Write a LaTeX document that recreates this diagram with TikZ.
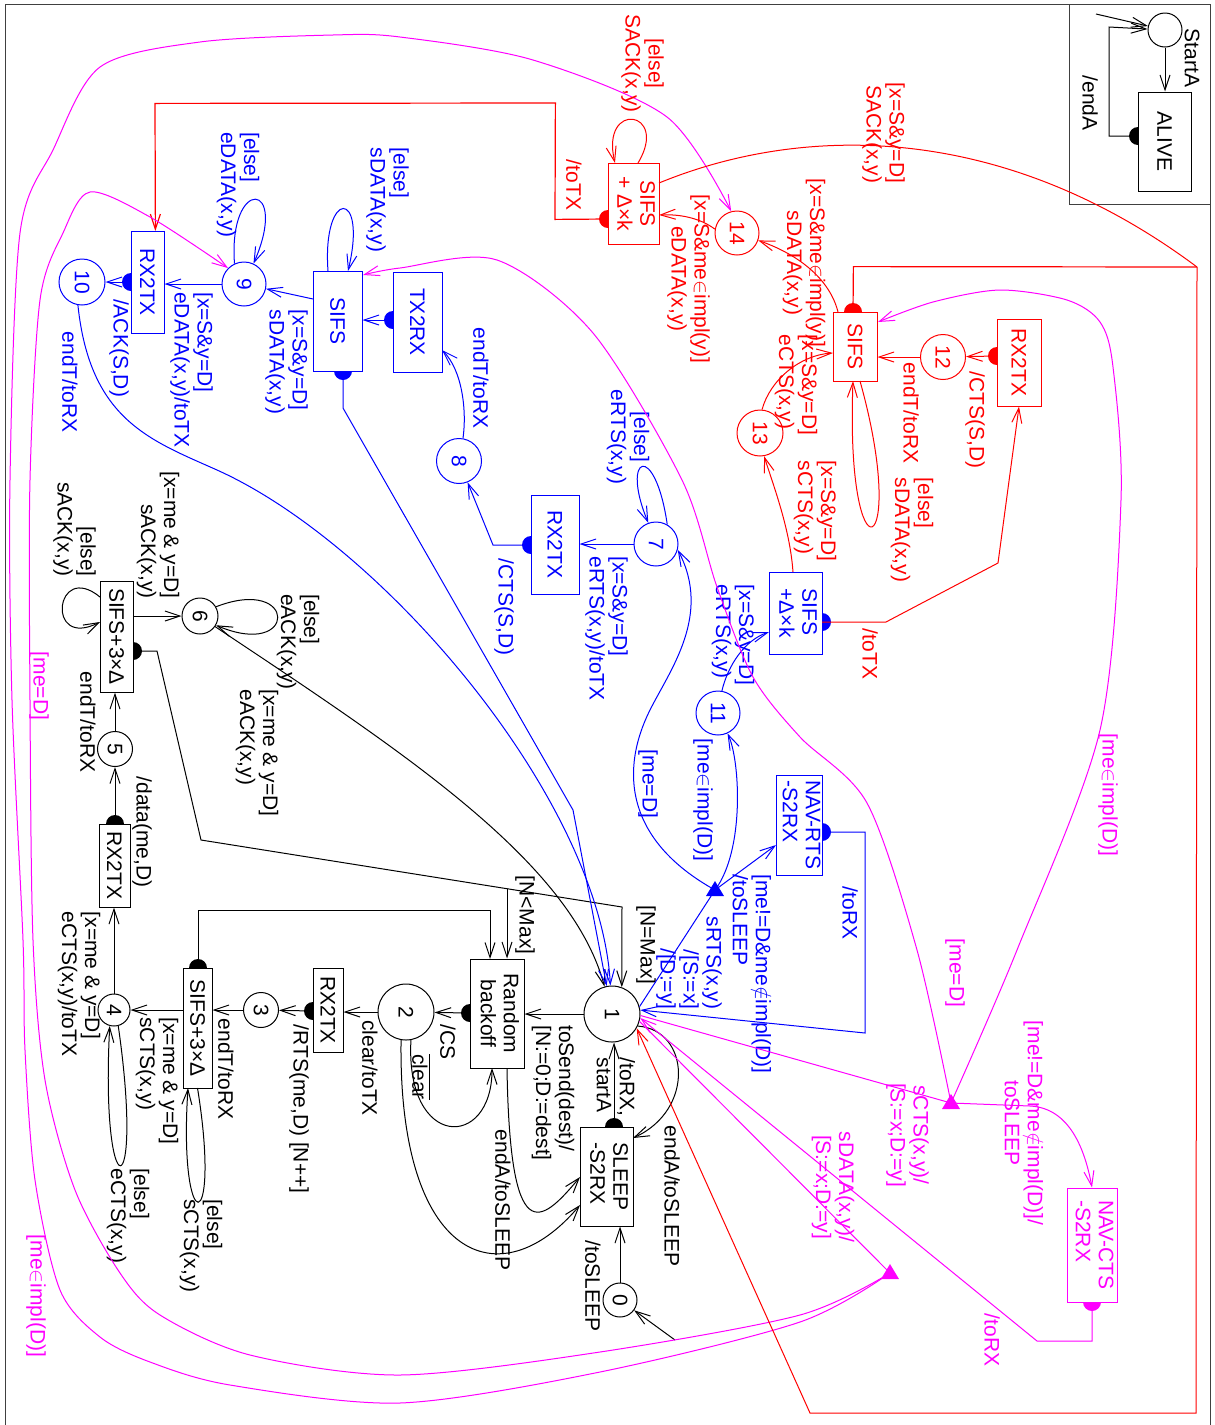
\documentclass[tikz,border=0pt]{standalone}
\usepackage{fontspec}
\setmainfont{Liberation Sans}
\usepackage{graphicx}
\usetikzlibrary{arrows.meta,calc}
\definecolor{mg}{RGB}{255,0,255}
\definecolor{bl}{RGB}{0,0,255}
\definecolor{rd}{RGB}{255,0,0}
\newcommand{\rt}[1]{\rotatebox{-90}{#1}}
\newcommand{\rtl}[1]{\rotatebox{-90}{\begin{tabular}{@{}l@{}}#1\end{tabular}}}
\newcommand{\rtc}[1]{\rotatebox{-90}{\begin{tabular}{@{}c@{}}#1\end{tabular}}}
\begin{document}
\begin{tikzpicture}[x=1pt,y=-1pt,line width=1pt,
  every node/.style={font=\fontsize{21}{23}\selectfont},
  >={Straight Barb[length=15pt,width=10pt]},
  box/.style={draw, fill=white, inner sep=0},
  bbox/.style={box, draw=bl, text=bl},
  rbox/.style={box, draw=rd, text=rd},
  mbox/.style={box, draw=mg, text=mg},
  st/.style={draw, fill=white, circle, inner sep=0},
  bst/.style={st, draw=bl, text=bl},
  rst/.style={st, draw=rd, text=rd},
  rline/.style={draw=rd, line width=1.2pt},
  lbl/.style={rotate=-90, inner sep=0, align=left}]
\useasboundingbox (0,0) rectangle (1215,1425);

% ---------- coordinates ----------
\coordinate (i1) at (1096,14);
\coordinate (i0) at (675,1340);
\coordinate (dALIVE) at (1138,136);
\coordinate (dSLEEP) at (614,1127);
\coordinate (dRB) at (470,1013);
\coordinate (dRXa) at (313,1011);
\coordinate (dS3a) at (198,968);
\coordinate (dRXb) at (115,824);
\coordinate (dS3b) at (133,651);
\coordinate (dRXc) at (531,545);
\coordinate (dTX) at (393,320);
\coordinate (dSIFSb) at (343,371);
\coordinate (dRXd) at (131,282);
\coordinate (dNAVR) at (822,832);
\coordinate (dSKb) at (822,622);
\coordinate (dSIFSr) at (853,312);
\coordinate (dRXr) at (997,356);
\coordinate (dSKr) at (608,219);
\coordinate (dNAVC) at (1092,1302);
\coordinate (j1) at (507,888.7);
\coordinate (T1) at (715,890);
\coordinate (TA) at (951,1103);
\coordinate (TB) at (890,1273);
\coordinate (cR) at (1197,267);
\coordinate (k1) at (555,219.4);
\coordinate (k2) at (555.4,103);
\coordinate (k3) at (155,103.4);
\coordinate (k4) at (155.4,231);
\coordinate (k5) at (853.4,266.6);

% red timeout connectors drawn first
\path[rline, ->] (dSKr) -- (k1) -- (k2) -- (k3) -- (k4);
\path[rline] (dSIFSr) -- (k5) -- (cR);

% frame
\draw[black!75] (5,1425) -- (5,4) -- (1210,4) -- (1210,1425);
\draw[black!75] (1069,4) -- (1069,204) -- (1210,204);

% half-disc markers (the white boxes cover the inner half)
\foreach \p in {dALIVE,dSLEEP,dRB,dRXa,dS3a,dRXb,dS3b} \fill (\p) circle (9pt);
\foreach \p in {dRXc,dTX,dSIFSb,dRXd,dNAVR,dSKb} \fill[bl] (\p) circle (9pt);
\foreach \p in {dSIFSr,dRXr,dSKr} \fill[rd] (\p) circle (9pt);
\fill[mg] (dNAVC) circle (9pt);

% ---------- boxes ----------
\node[box, minimum width=53pt, minimum height=99pt] (ALIVE) at (1164.5,141.5) {\rt{ALIVE}};
\node[box, minimum width=53pt, minimum height=99pt] (SLEEP) at (606.5,1176.5) {\rtl{SLEEP\\-S2RX}};
\node[box, minimum width=54pt, minimum height=109pt] (RB) at (497,1013.5) {\rtc{Random\\backoff}};
\node[box, minimum width=30pt, minimum height=84pt] (RXa) at (328,1010) {\rt{RX2TX}};
\node[box, minimum width=29pt, minimum height=120pt] (S3a) at (197.5,1028) {\rt{SIFS+3×Δ}};
\node[box, minimum width=31pt, minimum height=83pt] (RXb) at (114.5,865.5) {\rt{RX2TX}};
\node[box, minimum width=33pt, minimum height=111pt] (S3b) at (116.5,636.5) {\rt{SIFS+3×Δ}};
\node[bbox, minimum width=48pt, minimum height=99pt] (RXc) at (555,544.5) {\rt{RX2TX}};
\node[bbox, minimum width=49pt, minimum height=100pt] (TX) at (417.5,322) {\rt{TX2RX}};
\node[bbox, minimum width=49pt, minimum height=100pt] (SIFSb) at (337.5,321) {\rt{SIFS}};
\node[bbox, minimum width=33pt, minimum height=102pt] (RXd) at (147.5,282) {\rt{RX2TX}};
\node[bbox, minimum width=46pt, minimum height=100pt] (NAVR) at (799,825) {\rtl{NAV-RTS\\-S2RX}};
\node[bbox, minimum width=53pt, minimum height=82pt] (SKb) at (795.5,613) {\rtl{SIFS\\+Δ×k}};
\node[rbox, minimum width=44pt, minimum height=69pt] (SIFSr) at (855,346.5) {\rt{SIFS}};
\node[rbox, minimum width=44pt, minimum height=87pt] (RXr) at (1019,362.5) {\rt{RX2TX}};
\node[rbox, minimum width=51pt, minimum height=81pt] (SKr) at (633.5,203.5) {\rtc{SIFS\\+ Δ×k}};
\node[mbox, minimum width=50pt, minimum height=114pt] (NAVC) at (1092,1245) {\rtl{NAV-CTS\\-S2RX}};

% ---------- states ----------
\node[st, minimum size=34pt] (start) at (1165,30) {};
\node[st, minimum size=34pt] (n0) at (620,1300) {\rt{0}};
\node[st, minimum size=56pt] (n1) at (612,1014) {\rt{1}};
\node[st, minimum size=56pt] (n2) at (406,1012) {\rt{2}};
\node[st, minimum size=35pt] (n3) at (261,1010) {\rt{3}};
\node[st, minimum size=32pt] (n4) at (114,1010) {\rt{4}};
\node[st, minimum size=35pt] (n5) at (115,749) {\rt{5}};
\node[st, minimum size=36pt] (n6) at (200,616) {\rt{6}};
\node[bst, minimum size=44pt] (n7) at (656,544) {\rt{7}};
\node[bst, minimum size=45pt] (n8) at (459,461) {\rt{8}};
\node[bst, minimum size=44pt] (n9) at (244,284) {\rt{9}};
\node[bst, minimum size=46pt] (n10) at (82,282) {\rt{10}};
\node[bst, minimum size=44pt] (n11) at (718,713) {\rt{11}};
\node[rst, minimum size=45pt] (n12) at (943,357) {\rt{12}};
\node[rst, minimum size=46pt] (n13) at (760,433) {\rt{13}};
\node[rst, minimum size=44pt] (n14) at (737,233) {\rt{14}};

% ---------- inset ----------
\draw[->] (i1) -- (start);
\draw[->] (start) -- (start |- ALIVE.north);
\draw[->] (dALIVE) -- (1109,136) -- (1109,27) -- (start);
\node[lbl] (lStart) at (1192,58) {StartA};
\node[lbl] (lEndA) at (1090,103) {/endA};

% ---------- black ----------
\draw[->] (i0) -- (n0);
\draw[->] (n0) -- (n0 |- SLEEP.south);
\node[lbl] (l0) at (593,1286) {/toSLEEP};
\draw[->] (dSLEEP) -- (dSLEEP |- n1.south);
\node[lbl] (l1) at (616,1087) {/toRX,\\startA};
\draw[->] (n1.-25) .. controls (690,1030) and (695,1110) .. (633,1138);
\node[lbl] (l2) at (672,1196) {endA/toSLEEP};
\draw[->] (n1) -- (n1 -| RB.east);
\node[lbl] (l3) at (553,1093) {toSend(dest)/\\{}[N:=0;D:=dest]};
\draw[->] (dRB) -- (n2);
\node[lbl] (l4) at (448,1042) {/CS};
\draw[->] (n2.-80) .. controls (405,1150) and (492,1150) .. (492,1068);
\node[lbl] (l5) at (421,1077) {$\overline{\mbox{clear}}$};
\draw[->] (n2.-100) .. controls (398,1260) and (500,1300) .. (580,1205);
\draw[->] ($(RB.south)+(10,0)$) .. controls (510,1250) and (540,1225) .. (580,1177);
\node[lbl] (l6) at (503,1200) {endA/toSLEEP};
\draw[->] (n2) -- (n2 -| RXa.east);
\node[lbl] (l7) at (370,1068) {clear/toTX};
\draw[->] (dRXa) -- (n3);
\node[lbl] (l8) at (299,1109) {/RTS(me,D) [N++]};
\draw[->] (n3) -- (n3 -| S3a.east);
\node[lbl] (l9) at (226,1069) {endT/toRX};
\draw[->] (197.5,1088) .. controls (222,1240) and (178,1240) .. (188,1088);
\node[lbl] (l10) at (201,1246) {[else]\\sCTS(x,y)};
\draw[->] (S3a.west |- n4) -- (n4);
\node[lbl] (l11) at (157,1081) {[x=me \& y=D]\\sCTS(x,y)};
\draw[->] (n4.-75) .. controls (145,1212) and (100,1212) .. (n4.-105);
\node[lbl] (l12) at (128,1216) {[else]\\eCTS(x,y)};
\draw[->] (n4) -- (n4 |- RXb.south);
\node[lbl] (l13) at (79,984) {[x=me \& y=D]\\eCTS(x,y)/toTX};
\draw[->] (dRXb) -- (n5);
\node[lbl] (l14) at (142,832) {/data(me,D)};
\draw[->] (n5) -- (n5 |- S3b.south);
\node[lbl] (l15) at (88,722) {endT/toRX};
\draw[->] (100,597) .. controls (55,560) and (45,650) .. (100,622);
\node[lbl, align=right] (l16) at (74.5,529.5) {[else]\\sACK(x,y)};
\draw[->] (S3b.east |- n6) -- (n6);
\node[lbl, align=right] (l17) at (158,535) {[x=me \& y=D]\\sACK(x,y)};
\draw[->] (n6.30) .. controls (298,575) and (298,660) .. (n6.-30);
\node[lbl] (l18) at (298,642) {[else]\\eACK(x,y)};
\draw[->] (n6.-35) .. controls (400,750) and (570,860) .. (n1);
\node[lbl] (l19) at (257,753) {[x=me \& y=D]\\eACK(x,y)};
\draw (dS3b) -- (157,651) -- (201,840) -- (j1);
\draw[->] (j1) -- (622,907) -- (n1.70);
\draw[->] (j1) -- (j1 |- RB.north);
\node[lbl] (l20) at (525,915) {[N<Max]};
\node[lbl] (l21) at (646,945) {[N=Max]};
\draw[->] (dS3a) -- (198,910) -- (490,910) -- (490,959);

% ---------- blue ----------
\draw[bl] (n1.15) -- (T1);
\fill[bl] ($(T1)+(0,-9)$) -- ($(T1)+(-9,6)$) -- ($(T1)+(9,6)$) -- cycle;
\node[lbl, bl, align=right] (b1) at (689,963) {sRTS(x,y)\\/[S:=x]\\/[D:=y]};
\draw[->, bl] (T1) .. controls (745,850) and (740,760) .. (n11);
\node[lbl, bl] (b2) at (703,800) {[me$\in$impl(D)]};
\draw[->, bl] (T1) .. controls (625,840) and (620,770) .. (650,710) .. controls (670,670) and (712,615) .. (n7.-15);
\node[lbl, bl] (b3) at (648,784) {[me=D]};
\draw[->, bl] (T1) -- (776,845);
\node[lbl, bl] (b4) at (752,974) {[me!=D\&me$\notin$impl(D)]\\/toSLEEP};
\draw[->, bl] (dNAVR) -- (865,832) -- (865,1033) -- (n1.8);
\node[lbl, bl] (b5) at (850,913) {/toRX};
\draw[->, bl] (n11.80) .. controls (728,665) and (745,640) .. (769,632);
\node[lbl, bl] (b6) at (733,635) {[x=S\&y=D]\\eRTS(x,y)};
\draw[->, bl] (n7.60) .. controls (655,440) and (620,455) .. (n7.110);
\node[lbl, bl, align=center] (b7) at (628,437) {[else]\\eRTS(x,y)};
\draw[->, bl] (n7) -- (n7 -| RXc.east);
\node[lbl, bl] (b8) at (606.5,628.5) {[x=S\&y=D]\\eRTS(x,y)/toTX};
\draw[->, bl] (dRXc) -- (493,545) -- (n8);
\node[lbl, bl] (b9) at (504,607) {/CTS(S,D)};
\draw[->, bl] (n8.80) .. controls (467,410) and (462,370) .. (442,350);
\node[lbl, bl] (b10) at (481,378) {endT/toRX};
\draw[->, bl] (dTX) -- (dTX -| SIFSb.east);
\draw[->, bl] (328,271) .. controls (322,188) and (368,188) .. (348,271);
\node[lbl, bl] (b11) at (387.5,200) {[else]\\sDATA(x,y)};
\draw[->, bl] (313,299) -- (n9);
\node[lbl, bl] (b12) at (286.5,362) {[x=S\&y=D]\\sDATA(x,y)};
\draw[->, bl] (n9.115) .. controls (228,176) and (290,180) .. (n9.65);
\node[lbl, bl] (b13) at (238,185) {[else]\\eDATA(x,y)};
\draw[->, bl] (n9) -- (n9 -| RXd.east);
\node[lbl, bl] (b14) at (191.5,370) {[x=S\&y=D]\\eDATA(x,y)/toTX};
\draw[->, bl] (dRXd) -- (n10);
\node[lbl, bl] (b15) at (119,348) {/ACK(S,D)};
\draw[->, bl] (n10.-100) .. controls (90,420) and (150,440) .. (217,470) .. controls (384,545) and (600,800) .. (n1);
\node[lbl, bl] (b16) at (70,382) {endT/toRX};
\draw[->, bl] (dSIFSb) -- (343,408) -- (573,810) -- (n1);

% ---------- magenta ----------
\draw[mg] (n1.-3) -- (TA);
\fill[mg] ($(TA)+(0,-9)$) -- ($(TA)+(-9,6)$) -- ($(TA)+(9,6)$) -- cycle;
\node[lbl, mg, align=center] (m1) at (907.5,1135) {sCTS(x,y)/\\{}[S:=x;D:=y]};
\draw[->, mg] plot[smooth] coordinates {(TA) (917,950) (867,803) (800,737) (753,677) (717,587) (682,480) (593,333) (497,260) (400,268) (363,275)};
\node[lbl, mg] (m2) at (955,973) {[me=D]};
\draw[->, mg] plot[smooth] coordinates {(TA) (1017,950) (1100,730) (1121,500) (1113,367) (1100,322) (1067,300) (1000,290) (933,302) (878,322)};
\node[lbl, mg] (m3) at (1108,795) {[me$\in$impl(D)]};
\draw[->, mg] (TA) -- (1030,1106) .. controls (1070,1108) and (1085,1150) .. (NAVC.north);
\node[lbl, mg, align=center] (m4) at (1024,1123) {[me!=D\&me$\notin$impl(D)]/\\toSLEEP};
\draw[->, mg] (dNAVC) -- (1092,1341) -- (1037,1341) -- (n1.-8);
\node[lbl, mg] (m5) at (992,1340) {/toRX};
\draw[mg] (n1.-15) -- (TB);
\fill[mg] ($(TB)+(0,-9)$) -- ($(TB)+(-9,6)$) -- ($(TB)+(9,6)$) -- cycle;
\node[lbl, mg, align=center] (m6) at (833,1187) {sDATA(x,y)/\\{}[S:=x;D:=y]};
\draw[->, mg] plot[smooth] coordinates {(TB) (800,1315) (600,1352) (400,1375) (250,1355) (160,1315) (120,1273) (75,1190) (45,1080) (33,940) (30,700) (30,480) (40,300) (63,233) (90,192) (150,217) (n9.135)};
\node[lbl, mg] (m7) at (39,686) {[me=D]};
\draw[->, mg] plot[smooth] coordinates {(TB) (800,1322) (600,1372) (400,1403) (230,1385) (150,1362) (100,1337) (60,1290) (35,1180) (25,1050) (23,940) (12,700) (10,480) (20,233) (53,150) (100,67) (200,42) (333,35) (400,37) (533,60) (667,117) (n14.105)};
\node[lbl, mg] (m8) at (36,1296) {[me$\in$impl(D)]};

% ---------- red ----------
\node[lbl, rd] (r1) at (574,185) {/toTX};
\draw[->, rd] (638,163) .. controls (670,110) and (600,100) .. (615,163);
\node[lbl, rd, align=center] (r2) at (642.5,63.5) {[else]\\SACK(x,y)};
\draw[->, rd] (n14.170) .. controls (700,218) and (680,214) .. (659,215);
\node[lbl, rd, align=center] (r3) at (688.5,279) {[x=S\&me$\in$impl(y)]\\eDATA(x,y)};
\draw[rd] (659,183) .. controls (800,125) and (1000,120) .. (cR);
\draw[->, rd] (cR) -- (1196,1413) -- (810,1413) -- (n1.-30);
\node[lbl, rd, align=right] (r4) at (883.5,133) {[x=S\&y=D]\\SACK(x,y)};
\draw[->, rd] (838,312) .. controls (830,280) and (800,255) .. (n14);
\node[lbl, rd, align=center] (r5) at (804,263) {[x=S\&me$\in$impl(y)]\\sDATA(x,y)};
\draw[->, rd] (n13.85) .. controls (770,380) and (800,355) .. (833,353);
\node[lbl, rd] (r6) at (796,385) {[x=S\&y=D]\\eCTS(x,y)};
\draw[->, rd] (793,572) .. controls (790,530) and (775,490) .. (n13.-80);
\node[lbl, rd] (r7) at (815,511) {[x=S\&y=D]\\sCTS(x,y)};
\draw[->, rd] (n12) -- (n12 -| SIFSr.east);
\node[lbl, rd] (r8) at (911,413) {endT/toRX};
\draw[->, rd] (dRXr) -- (n12);
\node[lbl, rd] (r9) at (975,420) {/CTS(S,D)};
\draw[->, rd] (860,381) .. controls (910,560) and (845,590) .. (853,381);
\node[lbl, rd] (r10) at (912,530) {[else]\\sDATA(x,y)};
\draw[->, rd] (dSKb) -- (886,622) -- (998,563) -- (RXr.south);
\node[lbl, rd] (r11) at (870,654) {/toTX};
\end{tikzpicture}
\end{document}
